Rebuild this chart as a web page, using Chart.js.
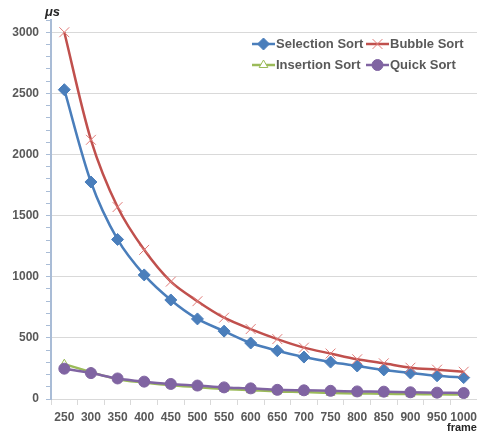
<!DOCTYPE html>
<html>
<head>
<meta charset="utf-8">
<script src="https://cdn.jsdelivr.net/npm/chart.js@4"></script>
<style>
  html, body { margin: 0; padding: 0; background: #fff; overflow: hidden; }
  /* a little wider than the window: the last x label's overhang is clipped, as in the original */
  #wrap { width: 485px; height: 434px; position: relative; }
</style>
</head>
<body>
<div id="wrap"><canvas id="sortChart"></canvas></div>
<script>
const categories = ['250','300','350','400','450','500','550','600','650','700','750','800','850','900','950','1000'];
const selection = [2530, 1775, 1305, 1015, 810, 655, 555, 458, 395, 343, 302, 270, 238, 213, 190, 175];
const bubble = [3000, 2120, 1570, 1220, 960, 800, 665, 572, 490, 420, 372, 325, 292, 256, 240, 223];
const insertion = [285, 220, 162, 135, 112, 97, 82, 72, 62, 57, 50, 46, 43, 40, 38, 36];
const quick = [248, 212, 168, 142, 123, 110, 95, 87, 75, 71, 67, 62, 60, 55, 52, 49];
const seriesNames = ['Selection Sort', 'Bubble Sort', 'Insertion Sort', 'Quick Sort'];

const tickFont = { family: 'Liberation Sans', size: 12, weight: 'bold' };
const textColor = '#595959';

// legend drawn inside the plot, line + marker like the original
const legendInside = {
    id: 'legendInside',
    afterDatasetsDraw(chart) {
        const ctx = chart.ctx;
        const spots = [[252, 44], [366, 44], [252, 65], [366, 65]];
        chart.data.datasets.forEach((ds, i) => {
            const [x, y] = spots[i];
            ctx.save();
            ctx.strokeStyle = ds.borderColor;
            ctx.lineWidth = 2.5;
            ctx.beginPath();
            ctx.moveTo(x, y);
            ctx.lineTo(x + 23, y);
            ctx.stroke();
            ctx.fillStyle = ds.pointBackgroundColor;
            ctx.strokeStyle = ds.pointBorderColor;
            ctx.lineWidth = ds.pointBorderWidth;
            Chart.helpers.drawPoint(ctx, { pointStyle: ds.pointStyle, radius: ds.pointRadius, borderWidth: ds.pointBorderWidth, rotation: 0 }, x + 11.5, y);
            ctx.fillStyle = textColor;
            ctx.font = 'bold 13px "Liberation Sans"';
            ctx.textBaseline = 'middle';
            ctx.fillText(ds.label, x + 24, y + 0.5);
            ctx.restore();
        });
    },
    afterDraw(chart) {
        const ctx = chart.ctx;
        ctx.save();
        ctx.fillStyle = '#262626';
        ctx.font = 'italic bold 13px "Liberation Sans"';
        ctx.textBaseline = 'middle';
        ctx.fillText('\u03bcs', 45, 12);
        ctx.font = 'bold 11px "Liberation Sans"';
        ctx.fillText('frames', 447, 428);
        ctx.restore();
    }
};

new Chart(document.getElementById('sortChart'), {
    type: 'line',
    data: {
        labels: categories,
        datasets: [
            {
                label: seriesNames[0], data: selection, order: 4,
                borderColor: '#4a7ebb', backgroundColor: '#4a7ebb',
                pointStyle: 'rectRot', pointRadius: 6, pointBorderWidth: 1,
                pointBackgroundColor: '#4a7ebb', pointBorderColor: '#4a7ebb'
            },
            {
                label: seriesNames[1], data: bubble, order: 3,
                borderColor: '#c0504d', backgroundColor: '#c0504d',
                pointStyle: 'crossRot', pointRadius: 7, pointBorderWidth: 1,
                pointBackgroundColor: '#e07b78', pointBorderColor: '#e07b78'
            },
            {
                label: seriesNames[2], data: insertion, order: 2,
                borderColor: '#9bbb59', backgroundColor: '#9bbb59',
                pointStyle: 'triangle', pointRadius: 5, pointBorderWidth: 1,
                pointBackgroundColor: '#ffffff', pointBorderColor: '#9bbb59'
            },
            {
                label: seriesNames[3], data: quick, order: 1,
                borderColor: '#8064a2', backgroundColor: '#8064a2',
                pointStyle: 'circle', pointRadius: 5.5, pointBorderWidth: 1,
                pointBackgroundColor: '#8064a2', pointBorderColor: '#8064a2'
            }
        ]
    },
    options: {
        responsive: true,
        maintainAspectRatio: false,
        animation: false,
        layout: { padding: { top: 20, right: 0, left: 0, bottom: 0 } },
        elements: { line: { borderWidth: 2.5, tension: 0.3, fill: false } },
        plugins: { legend: { display: false }, tooltip: { enabled: false } },
        scales: {
            x: {
                offset: true,
                grid: { offset: true, drawOnChartArea: false, tickLength: 6, color: '#d9d9d9' },
                border: { color: '#d9d9d9', width: 1 },
                ticks: { font: tickFont, color: textColor, padding: 5, maxRotation: 0, autoSkip: false },
                afterFit: s => { s.height = 35; }
            },
            y: {
                min: 0, max: 3100,
                grid: {
                    color: c => (c.tick && c.tick.value % 500 === 0 && c.tick.value > 0) ? '#d9d9d9' : 'rgba(0,0,0,0)',
                    tickColor: '#a9bcd6',
                    tickLength: 5
                },
                border: { color: '#a9bcd6', width: 2 },
                ticks: {
                    stepSize: 100, autoSkip: false, font: tickFont, color: textColor, padding: 7,
                    callback: v => v % 500 === 0 ? v : ''
                },
                afterFit: s => { s.width = 51; }
            }
        }
    },
    plugins: [legendInside]
});
</script>
</body>
</html>
